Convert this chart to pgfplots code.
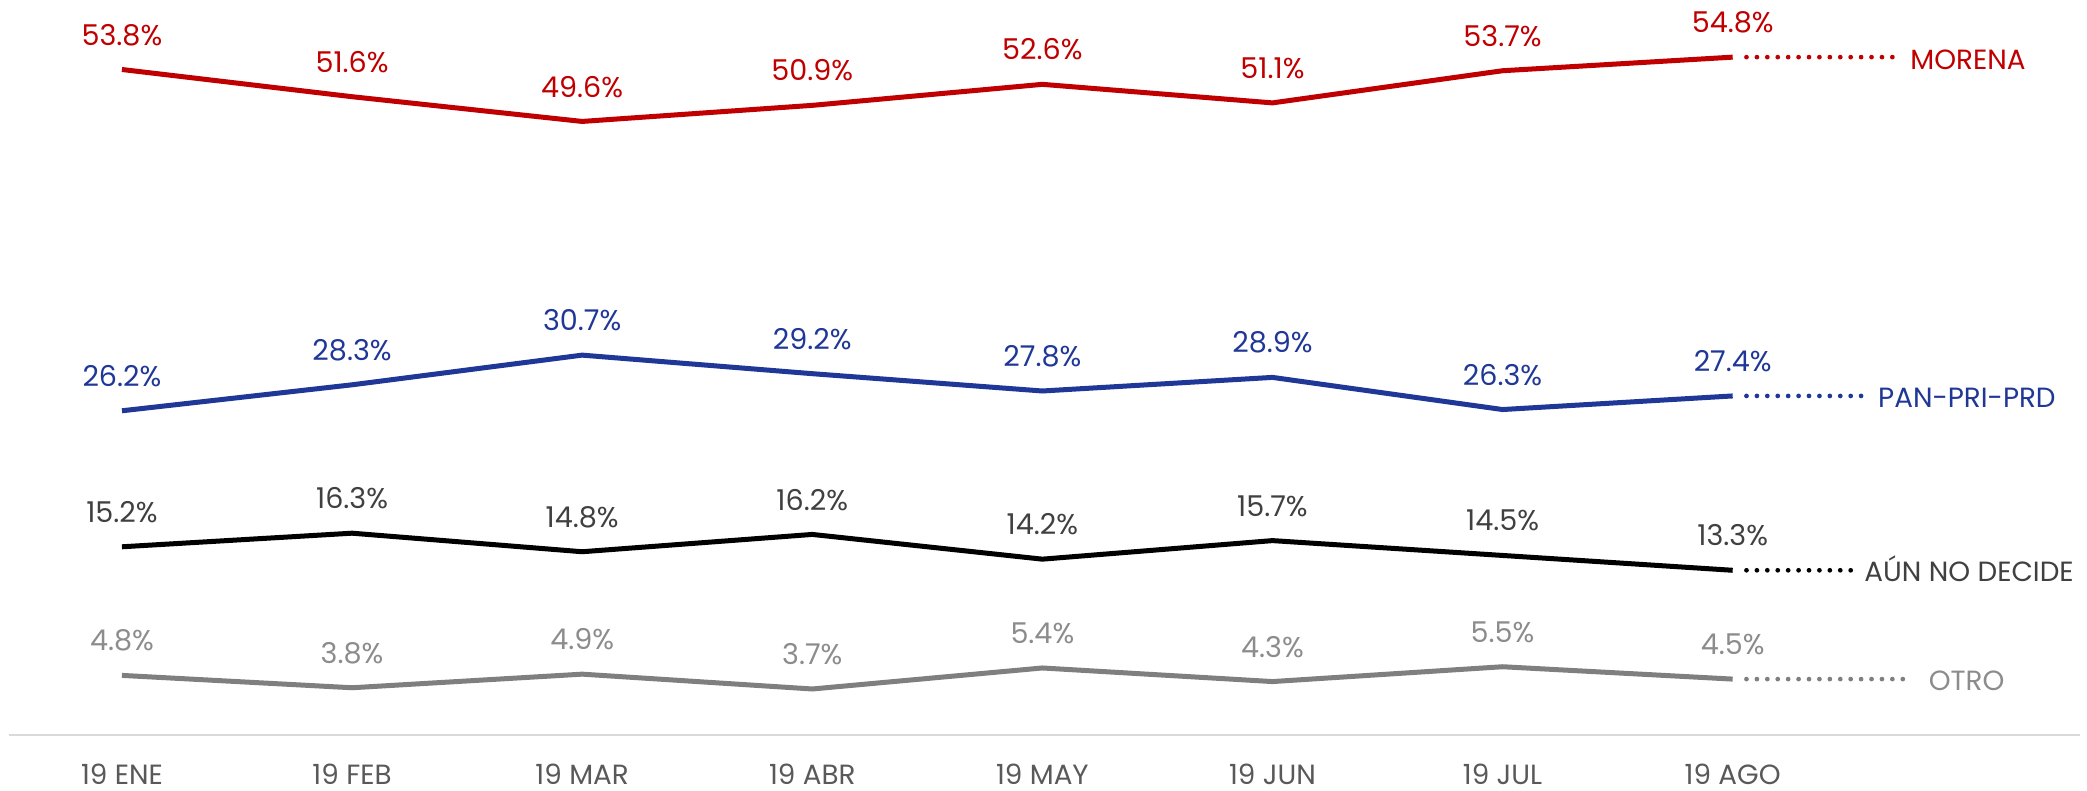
\documentclass[border=0pt]{standalone}
\usepackage{pgfplots}
\pgfplotsset{compat=1.18}
\usepackage{fontspec}
\setmainfont{Poppins}
\definecolor{cmor}{HTML}{C00000}
\definecolor{cpan}{HTML}{1F3796}
\definecolor{cund}{HTML}{000000}
\definecolor{cundt}{HTML}{404040}
\definecolor{cotr}{HTML}{7F7F7F}
\definecolor{cotrt}{HTML}{8C8C8C}
\definecolor{ctick}{HTML}{595959}
\begin{document}
\begin{tikzpicture}
\begin{axis}[
  scale only axis,
  width=751pt, height=264.3pt,
  xmin=-0.53, xmax=8.54,
  ymin=0, ymax=59.4,
  axis line style={draw=none},
  major tick length=0pt,
  ytick=\empty,
  xtick={0,...,7},
  xticklabels={19 ENE,19 FEB,19 MAR,19 ABR,19 MAY,19 JUN,19 JUL,19 AGO},
  xticklabel style={anchor=base, yshift=-18pt, inner sep=0pt, text depth=2.2pt, text=ctick},
  /pgf/number format/assume math mode=true,
  clip=false,
  nodes near coords={\pgfmathprintnumber[fixed,fixed zerofill,precision=1,assume math mode=true]{\pgfplotspointmeta}\%},
  every node near coord/.style={anchor=center, yshift=12.5pt, font=\fontsize{10.3}{12}\selectfont},
  point meta=y,
]
\draw[color=black!15, line width=0.6pt] (axis cs:-0.49,0) -- (axis cs:8.51,0);
\addplot[cmor, line width=1.8pt, mark=none, nodes near coords style={text=cmor}] coordinates {
(0,53.8) (1,51.6) (2,49.6) (3,50.9) (4,52.6) (5,51.1) (6,53.7) (7,54.8)};
\addplot[cpan, line width=1.8pt, mark=none, nodes near coords style={text=cpan}] coordinates {
(0,26.2) (1,28.3) (2,30.7) (3,29.2) (4,27.8) (5,28.9) (6,26.3) (7,27.4)};
\addplot[cund, line width=1.8pt, mark=none, nodes near coords style={text=cundt}] coordinates {
(0,15.2) (1,16.3) (2,14.8) (3,16.2) (4,14.2) (5,15.7) (6,14.5) (7,13.3)};
\addplot[cotr, line width=1.8pt, mark=none, nodes near coords style={text=cotrt}] coordinates {
(0,4.8) (1,3.8) (2,4.9) (3,3.7) (4,5.4) (5,4.3) (6,5.5) (7,4.5)};
% dotted extensions
\addplot[cmor, line width=1.7pt, line cap=round, dash pattern=on 0pt off 3.75pt, nodes near coords=] coordinates {(7.06,54.8) (7.71,54.8)};
\addplot[cpan, line width=1.7pt, line cap=round, dash pattern=on 0pt off 3.75pt, nodes near coords=] coordinates {(7.06,27.4) (7.59,27.4)};
\addplot[cund, line width=1.7pt, line cap=round, dash pattern=on 0pt off 3.75pt, nodes near coords=] coordinates {(7.06,13.3) (7.52,13.3)};
\addplot[cotr, line width=1.7pt, line cap=round, dash pattern=on 0pt off 3.75pt, nodes near coords=] coordinates {(7.06,4.5) (7.78,4.5)};
\node[anchor=base west, text=cmor, inner sep=0pt, yshift=-4.3pt] at (axis cs:7.77,54.8) {MORENA};
\node[anchor=base west, text=cpan, inner sep=0pt, yshift=-4.3pt] at (axis cs:7.63,27.4) {PAN-PRI-PRD};
\node[anchor=base west, text=cundt, inner sep=0pt, yshift=-4.1pt] at (axis cs:7.57,13.3) {AÚN NO DECIDE};
\node[anchor=base west, text=cotrt, inner sep=0pt, yshift=-4.0pt] at (axis cs:7.85,4.5) {OTRO};
\end{axis}
\end{tikzpicture}
\end{document}
